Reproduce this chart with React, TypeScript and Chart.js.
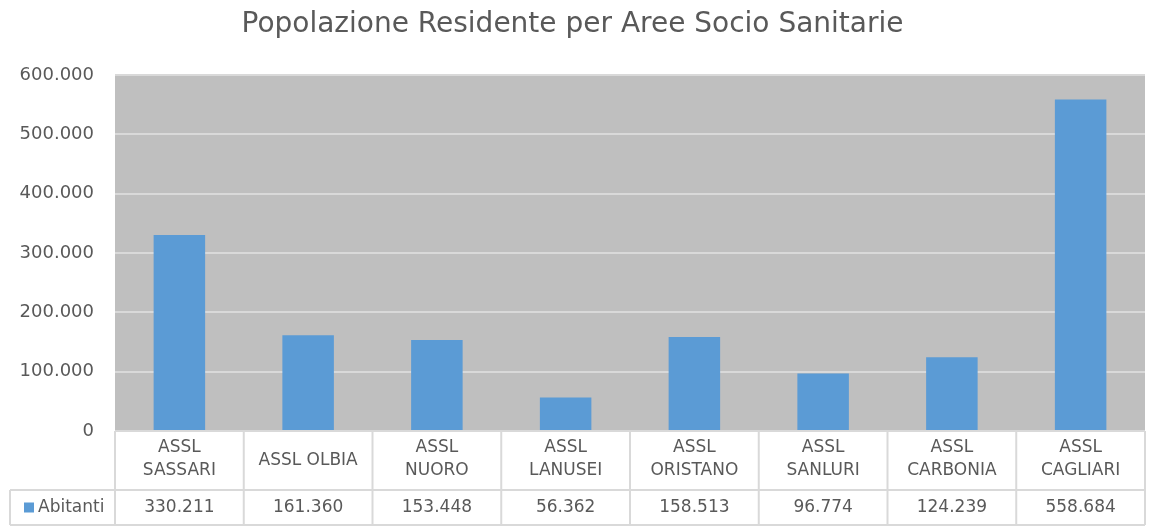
import React, { useEffect, useRef } from "react";
import { Chart, registerables } from "chart.js";

Chart.register(...registerables);

const TITLE = "Popolazione Residente per Aree Socio Sanitarie";
const SERIES_LABEL = "Abitanti";
const CATEGORIES: string[][] = [
  ["ASSL", "SASSARI"],
  ["ASSL OLBIA"],
  ["ASSL", "NUORO"],
  ["ASSL", "LANUSEI"],
  ["ASSL", "ORISTANO"],
  ["ASSL", "SANLURI"],
  ["ASSL", "CARBONIA"],
  ["ASSL", "CAGLIARI"],
];
const VALUES: number[] = [330211, 161360, 153448, 56362, 158513, 96774, 124239, 558684];
const Y_MIN = 0;
const Y_MAX = 600000;
const Y_STEP = 100000;

const FONT = "'DejaVu Sans', 'Open Sans', sans-serif";
const TEXT_COLOR = "#595959";
const LINE_COLOR = "#d9d9d9";
const BAR_COLOR = "#5b9bd5";

function fmt(v: number): string {
  return Math.round(v)
    .toString()
    .replace(/\B(?=(\d{3})+(?!\d))/g, ".");
}

const tablePlugin = {
  id: "dataTable",
  beforeDraw(chart: any) {
    const { ctx, chartArea } = chart;
    ctx.save();
    ctx.fillStyle = "#bfbfbf";
    ctx.fillRect(chartArea.left, chartArea.top, chartArea.right - chartArea.left, chartArea.bottom - chartArea.top);
    ctx.restore();
  },
  afterDraw(chart: any) {
    const { ctx, chartArea } = chart;
    const x = chart.scales.x;
    const n = CATEGORIES.length;
    const left = chartArea.left;
    const right = chartArea.right;
    const top = chartArea.bottom;
    const mid = top + 59;
    const bot = top + 94;
    const legendLeft = 10;
    const edges: number[] = [];
    for (let i = 0; i <= n; i++) {
      if (i === 0) edges.push(left);
      else if (i === n) edges.push(right);
      else edges.push((x.getPixelForValue(i - 1) + x.getPixelForValue(i)) / 2);
    }
    ctx.save();
    ctx.strokeStyle = LINE_COLOR;
    ctx.lineWidth = 2;
    ctx.beginPath();
    ctx.moveTo(legendLeft, mid);
    ctx.lineTo(right, mid);
    ctx.moveTo(legendLeft, bot);
    ctx.lineTo(right, bot);
    for (const e of edges) {
      ctx.moveTo(e, top);
      ctx.lineTo(e, bot);
    }
    ctx.moveTo(legendLeft, mid);
    ctx.lineTo(legendLeft, bot);
    ctx.stroke();

    ctx.fillStyle = TEXT_COLOR;
    ctx.font = `17px ${FONT}`;
    ctx.textAlign = "center";
    ctx.textBaseline = "middle";
    CATEGORIES.forEach((lines, i) => {
      const cx = x.getPixelForValue(i);
      if (lines.length === 1) {
        ctx.fillText(lines[0], cx, top + 30);
      } else {
        ctx.fillText(lines[0], cx, top + 17);
        ctx.fillText(lines[1], cx, top + 40);
      }
    });
    const vy = (mid + bot) / 2;
    VALUES.forEach((v, i) => {
      ctx.fillText(fmt(v), x.getPixelForValue(i), vy);
    });
    ctx.fillStyle = BAR_COLOR;
    ctx.fillRect(24, vy - 5, 10, 10);
    ctx.fillStyle = TEXT_COLOR;
    ctx.textAlign = "left";
    ctx.fillText(SERIES_LABEL, 38, vy);
    ctx.restore();
  },
};

export default function App() {
  const ref = useRef<HTMLCanvasElement | null>(null);
  useEffect(() => {
    if (!ref.current) return;
    const chart = new Chart(ref.current, {
      type: "bar",
      data: {
        labels: CATEGORIES.map((c) => c.join(" ")),
        datasets: [
          {
            label: SERIES_LABEL,
            data: VALUES,
            backgroundColor: BAR_COLOR,
            borderWidth: 0,
            barPercentage: 0.8,
            categoryPercentage: 0.5,
          },
        ],
      },
      options: {
        animation: false,
        responsive: false,
        maintainAspectRatio: false,
        layout: { padding: { left: 0, right: 6, top: 0, bottom: 95 } },
        plugins: {
          legend: { display: false },
          tooltip: { enabled: false },
          title: {
            display: true,
            text: TITLE,
            color: TEXT_COLOR,
            font: { family: FONT, size: 28, weight: "normal", lineHeight: 1.2 },
            padding: { top: 8, bottom: 33.4 },
          },
        },
        scales: {
          x: { display: false },
          y: {
            min: Y_MIN,
            max: Y_MAX,
            afterFit(scale: any) {
              scale.width = 115;
            },
            ticks: {
              stepSize: Y_STEP,
              color: TEXT_COLOR,
              font: { family: FONT, size: 18 },
              padding: 21,
              callback: (v: any) => fmt(Number(v)),
            },
            grid: { color: LINE_COLOR, lineWidth: 2, drawTicks: false },
            border: { display: false },
          },
        },
      },
      plugins: [tablePlugin],
    });
    return () => chart.destroy();
  }, []);
  return (
    <div style={{ position: "absolute", left: 0, top: 0, width: 1151, height: 526 }}>
      <canvas ref={ref} width={1151} height={526} style={{ width: 1151, height: 526 }} />
    </div>
  );
}
